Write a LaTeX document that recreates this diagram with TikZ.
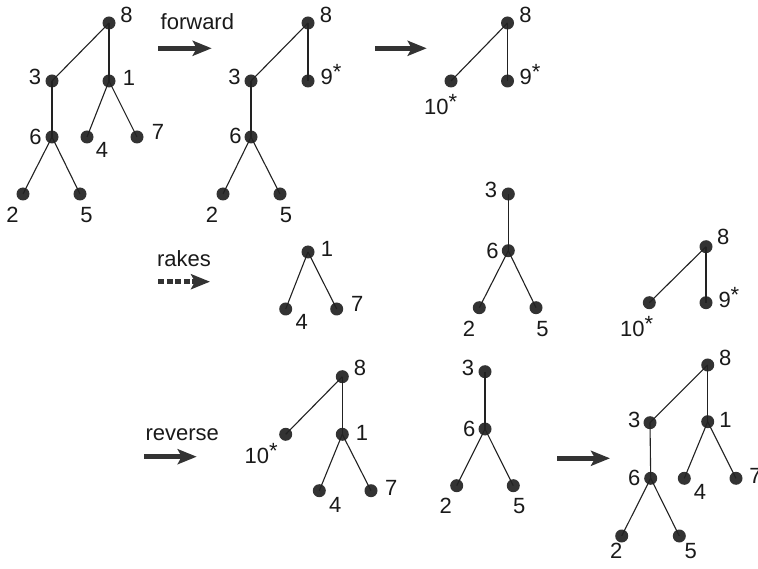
\documentclass[tikz,border=0pt]{standalone}
\usepackage{fontspec}
\setmainfont{Liberation Sans}
\usetikzlibrary{arrows.meta}
\definecolor{nodegray}{HTML}{333333}
\definecolor{edgec}{HTML}{222222}
\definecolor{arrowc}{HTML}{333333}
\definecolor{txt}{HTML}{1A1A1A}
\newcommand{\supst}{\raisebox{5pt}{*}}
\begin{document}
\begin{tikzpicture}[x=1pt,y=-1pt,
  v/.style={circle, fill=nodegray, inner sep=0pt, minimum size=13pt},
  lbl/.style={anchor=base, inner sep=0pt, text=txt, font=\fontsize{22}{26}\selectfont},
  lblw/.style={lbl, anchor=base west},
  edge/.style={draw=edgec, line width=1.1pt},
  bigarrow/.style={draw=arrowc, line width=5pt, -{Stealth[length=19pt,width=15pt,inset=4pt]}},
  dasharrow/.style={bigarrow, dash pattern=on 6pt off 2.5pt}]
\fill[white] (0,0) rectangle (758,569);
\useasboundingbox (0,0) rectangle (758,569);

% ---- Tree 1 ----
\node[v] (a8) at (109,23) {};
\node[v] (a3) at (52,81) {};
\node[v] (a1) at (109,81) {};
\node[v] (a6) at (52,137) {};
\node[v] (a4) at (87,137) {};
\node[v] (a7) at (137,137) {};
\node[v] (a2) at (23,194) {};
\node[v] (a5) at (80,194) {};
\draw[edge] (a8.center) -- (a3.center);
\draw[edge] (a8.center) -- (a1.center);
\draw[edge] (a3.center) -- (a6.center);
\draw[edge] (a1.center) -- (a4.center);
\draw[edge] (a1.center) -- (a7.center);
\draw[edge] (a6.center) -- (a2.center);
\draw[edge] (a6.center) -- (a5.center);
\node[lbl] (a8t) at (126.5,23) {8};
\node[lbl] (a3t) at (35,85) {3};
\node[lbl] (a1t) at (129,86) {1};
\node[lbl] (a6t) at (35.5,145) {6};
\node[lbl] (a4t) at (102,158) {4};
\node[lbl] (a7t) at (158,140) {7};
\node[lbl] (a2t) at (12.5,223) {2};
\node[lbl] (a5t) at (86.5,223) {5};

% ---- forward ----
\node[lblw] (fwd) at (160.5,30) {forward};
\coordinate (f1s) at (158.3,48.3);
\coordinate (f1e) at (211.7,48.3);
\draw[bigarrow] (f1s) -- (f1e);

% ---- Tree 2 ----
\node[v] (b8) at (308,23) {};
\node[v] (b3) at (251,81) {};
\node[v] (b9) at (308,81) {};
\node[v] (b6) at (251,137) {};
\node[v] (b2) at (223,194) {};
\node[v] (b5) at (280,194) {};
\draw[edge] (b8.center) -- (b3.center);
\draw[edge] (b8.center) -- (b9.center);
\draw[edge] (b3.center) -- (b6.center);
\draw[edge] (b6.center) -- (b2.center);
\draw[edge] (b6.center) -- (b5.center);
\node[lbl] (b8t) at (326,23) {8};
\node[lbl] (b3t) at (234.5,85) {3};
\node[lblw] (b9t) at (320.5,85) {9\supst};
\node[lbl] (b6t) at (235.5,144) {6};
\node[lbl] (b2t) at (212,223) {2};
\node[lbl] (b5t) at (286,223) {5};

\coordinate (f2s) at (375,48.3);
\coordinate (f2e) at (426.7,48.3);
\draw[bigarrow] (f2s) -- (f2e);

% ---- Tree 3 ----
\node[v] (c8) at (507.5,23) {};
\node[v] (c10) at (451,81) {};
\node[v] (c9) at (507.5,81) {};
\draw[edge] (c8.center) -- (c10.center);
\draw[edge] (c8.center) -- (c9.center);
\node[lbl] (c8t) at (525.5,23) {8};
\node[lblw] (c10t) at (424,115) {10\supst};
\node[lblw] (c9t) at (519.5,85) {9\supst};

% ---- rakes ----
\node[lblw] (rk) at (156.8,266.5) {rakes};
\coordinate (r1s) at (158.3,281.7);
\coordinate (r1e) at (210,281.7);
\draw[dasharrow] (r1s) -- (r1e);

\node[v] (d1) at (308,252) {};
\node[v] (d4) at (285.7,309) {};
\node[v] (d7) at (336.7,309) {};
\draw[edge] (d1.center) -- (d4.center);
\draw[edge] (d1.center) -- (d7.center);
\node[lbl] (d1t) at (327,257) {1};
\node[lbl] (d4t) at (301.7,330) {4};
\node[lbl] (d7t) at (357.2,311.7) {7};

\node[v] (e3) at (508.3,194) {};
\node[v] (e6) at (508.3,250.7) {};
\node[v] (e2) at (479.3,307.7) {};
\node[v] (e5) at (536,307.7) {};
\draw[edge] (e3.center) -- (e6.center);
\draw[edge] (e6.center) -- (e2.center);
\draw[edge] (e6.center) -- (e5.center);
\node[lbl] (e3t) at (491,198) {3};
\node[lbl] (e6t) at (492.5,259) {6};
\node[lbl] (e2t) at (469,336.7) {2};
\node[lbl] (e5t) at (542.5,336.7) {5};

\node[v] (g8) at (706,246.7) {};
\node[v] (g10) at (649.3,302.7) {};
\node[v] (g9) at (706,302.7) {};
\draw[edge] (g8.center) -- (g10.center);
\draw[edge] (g8.center) -- (g9.center);
\node[lbl] (g8t) at (723.3,245) {8};
\node[lblw] (g10t) at (620,337) {10\supst};
\node[lblw] (g9t) at (718.3,307.3) {9\supst};

% ---- reverse ----
\node[lblw] (rv) at (145.3,440) {reverse};
\coordinate (v1s) at (144,456.7);
\coordinate (v1e) at (196.7,456.7);
\draw[bigarrow] (v1s) -- (v1e);

\node[v] (h8) at (342.3,376.7) {};
\node[v] (h10) at (285.7,434.3) {};
\node[v] (h1) at (342.3,434.3) {};
\node[v] (h4) at (319.3,490.7) {};
\node[v] (h7) at (371,490.7) {};
\draw[edge] (h8.center) -- (h10.center);
\draw[edge] (h8.center) -- (h1.center);
\draw[edge] (h1.center) -- (h4.center);
\draw[edge] (h1.center) -- (h7.center);
\node[lbl] (h8t) at (360,376) {8};
\node[lblw] (h10t) at (244.5,463) {10\supst};
\node[lbl] (h1t) at (362,440) {1};
\node[lbl] (h4t) at (335.2,512.7) {4};
\node[lbl] (h7t) at (391.3,495) {7};

\node[v] (k3) at (485,371.7) {};
\node[v] (k6) at (485,429) {};
\node[v] (k2) at (456.7,485.7) {};
\node[v] (k5) at (513.3,485.7) {};
\draw[edge] (k3.center) -- (k6.center);
\draw[edge] (k6.center) -- (k2.center);
\draw[edge] (k6.center) -- (k5.center);
\node[lbl] (k3t) at (468,376) {3};
\node[lbl] (k6t) at (469.2,436) {6};
\node[lbl] (k2t) at (445.8,513) {2};
\node[lbl] (k5t) at (519.2,513) {5};

\coordinate (v2s) at (557.3,458.3);
\coordinate (v2e) at (610,458.3);
\draw[bigarrow] (v2s) -- (v2e);

\node[v] (m8) at (707.7,365) {};
\node[v] (m3) at (650,422.7) {};
\node[v] (m1) at (707.7,421.7) {};
\node[v] (m6) at (650.7,478.3) {};
\node[v] (m4) at (684.3,478.3) {};
\node[v] (m7) at (736,478.3) {};
\node[v] (m2) at (621.7,536) {};
\node[v] (m5) at (679.3,536) {};
\draw[edge] (m8.center) -- (m3.center);
\draw[edge] (m8.center) -- (m1.center);
\draw[edge] (m3.center) -- (m6.center);
\draw[edge] (m1.center) -- (m4.center);
\draw[edge] (m1.center) -- (m7.center);
\draw[edge] (m6.center) -- (m2.center);
\draw[edge] (m6.center) -- (m5.center);
\node[lbl] (m8t) at (725.3,366) {8};
\node[lbl] (m3t) at (634.2,428) {3};
\node[lbl] (m1t) at (725.5,427.3) {1};
\node[lbl] (m6t) at (634.2,485) {6};
\node[lbl] (m4t) at (700,499) {4};
\node[lbl] (m7t) at (755.5,483) {7};
\node[lbl] (m2t) at (616.2,558) {2};
\node[lbl] (m5t) at (690.8,558) {5};
\end{tikzpicture}
\end{document}
